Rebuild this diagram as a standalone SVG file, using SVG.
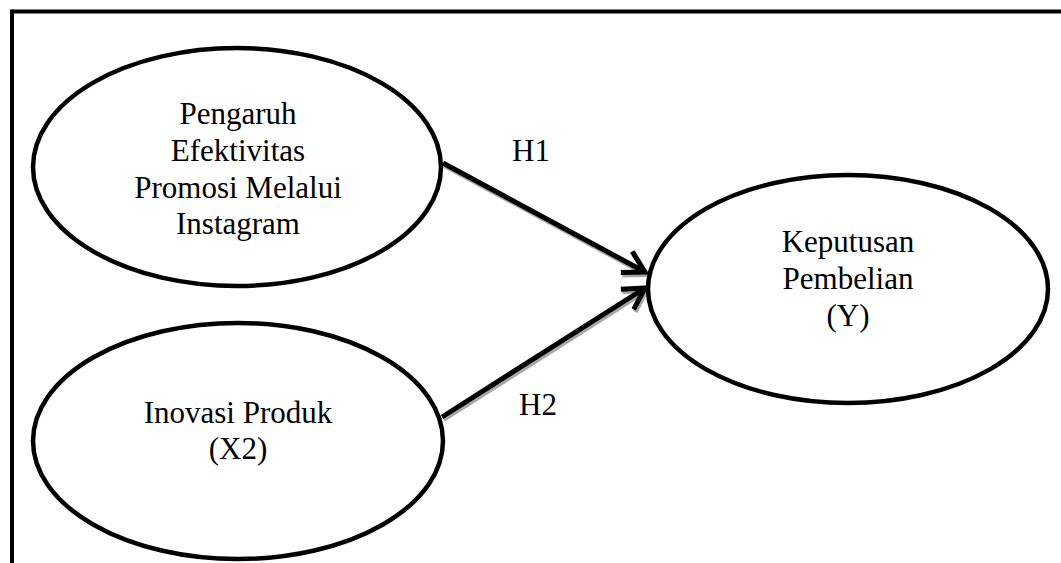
<svg xmlns="http://www.w3.org/2000/svg" width="1061" height="563" viewBox="0 0 1061 563">
<style>
.node ellipse{fill:#fff;stroke:#000;stroke-width:4.5}
.node text{font-family:"Liberation Serif","Times New Roman",serif;font-size:31px;fill:#000;text-anchor:middle}
.lbl{font-family:"Liberation Serif","Times New Roman",serif;font-size:31px;fill:#000;text-anchor:middle}
.edge{stroke:#000;stroke-width:5;fill:none}
.shadow{stroke:#a8a8a8;stroke-width:5;fill:none}
</style>
<defs>
<marker id="arr" markerUnits="userSpaceOnUse" viewBox="-30 -20 34 40" markerWidth="34" markerHeight="40" refX="0" refY="0" orient="auto" overflow="visible">
<path d="M-21,-12 L0,0 L-21,12" fill="none" stroke="#000" stroke-width="5" stroke-linejoin="miter"/>
</marker>
<marker id="arrs" markerUnits="userSpaceOnUse" viewBox="-30 -20 34 40" markerWidth="34" markerHeight="40" refX="0" refY="0" orient="auto" overflow="visible">
<path d="M-21,-12 L0,0 L-21,12" fill="none" stroke="#a8a8a8" stroke-width="5"/>
</marker>
</defs>
<rect width="1061" height="563" fill="#fff"/>
<g id="frame">
<line x1="12" y1="11.5" x2="1061" y2="11.5" stroke="#000" stroke-width="4"/>
<line x1="12" y1="9.5" x2="12" y2="563" stroke="#000" stroke-width="4"/>
</g>
<g id="connectors">
<g transform="translate(1.5,2.5)">
<line class="shadow" x1="443" y1="163" x2="645" y2="272" marker-end="url(#arrs)"/>
<line class="shadow" x1="442" y1="417" x2="645" y2="288" marker-end="url(#arrs)"/>
</g>
<line class="edge" x1="443" y1="163" x2="645" y2="272" marker-end="url(#arr)"/>
<line class="edge" x1="442" y1="417" x2="645" y2="288" marker-end="url(#arr)"/>
<text class="lbl" x="531" y="161">H1</text>
<text class="lbl" x="538" y="415">H2</text>
</g>
<g id="node-x1" class="node">
<ellipse cx="237" cy="167" rx="204" ry="119"/>
<text x="238" y="124">Pengaruh</text>
<text x="238" y="161">Efektivitas</text>
<text x="238" y="198">Promosi Melalui</text>
<text x="238" y="234">Instagram</text>
</g>
<g id="node-x2" class="node">
<ellipse cx="238" cy="441" rx="205" ry="118"/>
<text x="238" y="423">Inovasi Produk</text>
<text x="238" y="459">(X2)</text>
</g>
<g id="node-y" class="node">
<ellipse cx="848" cy="289" rx="200" ry="114"/>
<text x="848" y="252">Keputusan</text>
<text x="848" y="289">Pembelian</text>
<text x="848" y="326">(Y)</text>
</g>
</svg>
